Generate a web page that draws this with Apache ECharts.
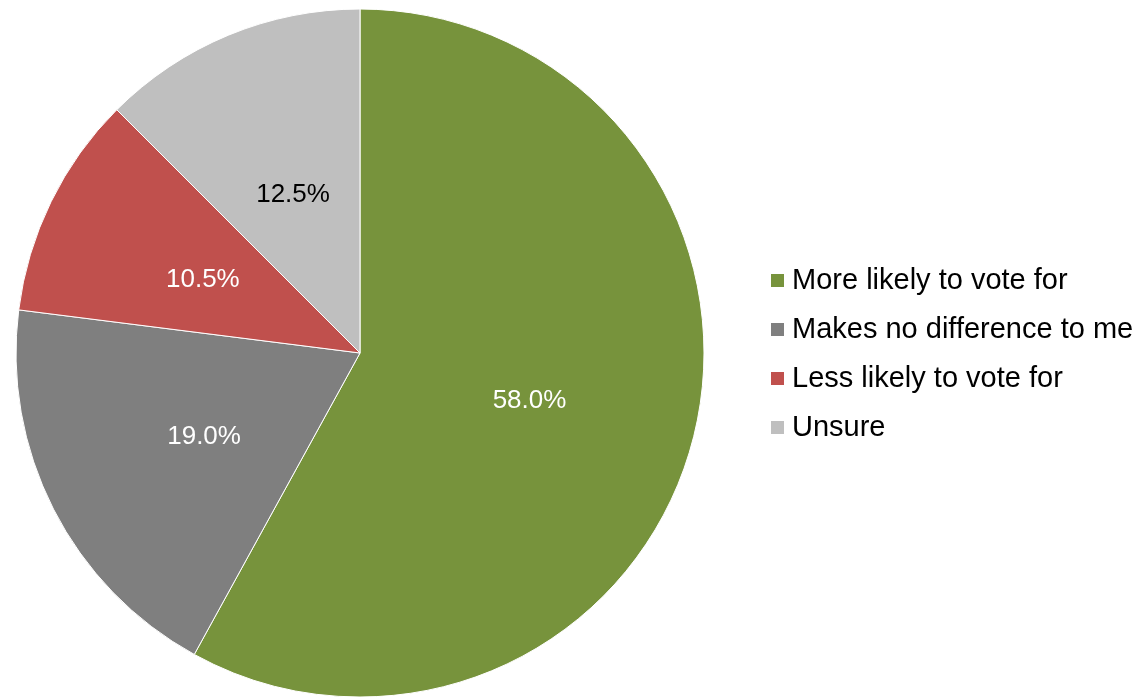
<!DOCTYPE html>
<html>
<head>
<meta charset="utf-8">
<script src="https://cdn.jsdelivr.net/npm/echarts@6/dist/echarts.min.js"></script>
<style>
	html, body { margin: 0; padding: 0; background: #fff; }
	#pieChart { width: 1141px; height: 697px; }
</style>
</head>
<body>
<div id="pieChart"></div>
<script>
	// 数据
	var categories = ['More likely to vote for', 'Makes no difference to me', 'Less likely to vote for', 'Unsure'];
	var values = [58.0, 19.0, 10.5, 12.5];
	var colors = ['#77933C', '#7F7F7F', '#C0504D', '#BFBFBF'];
	var labelColors = ['#ffffff', '#ffffff', '#ffffff', '#000000'];

	var pieData = [];
	for (var i = 0; i < categories.length; i++) {
		pieData.push({
			name: categories[i],
			value: values[i],
			itemStyle: { color: colors[i] },
			label: { color: labelColors[i] }
		});
	}

	var myChart = echarts.init(document.getElementById('pieChart'));
	myChart.setOption({
		animation: false,
		legend: {
			orient: 'vertical',
			left: 764,
			top: 261,
			itemWidth: 15,
			itemHeight: 15,
			itemGap: 20,
			icon: 'rect',
			textStyle: {
				fontFamily: 'Liberation Sans, Arial, sans-serif',
				fontSize: 29,
				lineHeight: 29,
				color: '#000',
				padding: [0, 0, 0, 2]
			},
			data: categories
		},
		series: [{
			type: 'pie',
			center: [360, 353],
			radius: 344,
			startAngle: 90,
			clockwise: true,
			data: pieData,
			label: {
				position: 'inside',
				fontFamily: 'Liberation Sans, Arial, sans-serif',
				fontSize: 26,
				offset: [0, 4],
				formatter: function (p) { return p.value.toFixed(1) + '%'; }
			},
			labelLine: { show: false },
			itemStyle: { borderColor: '#fff', borderWidth: 1 },
			emphasis: { disabled: true }
		}]
	});
</script>
</body>
</html>
